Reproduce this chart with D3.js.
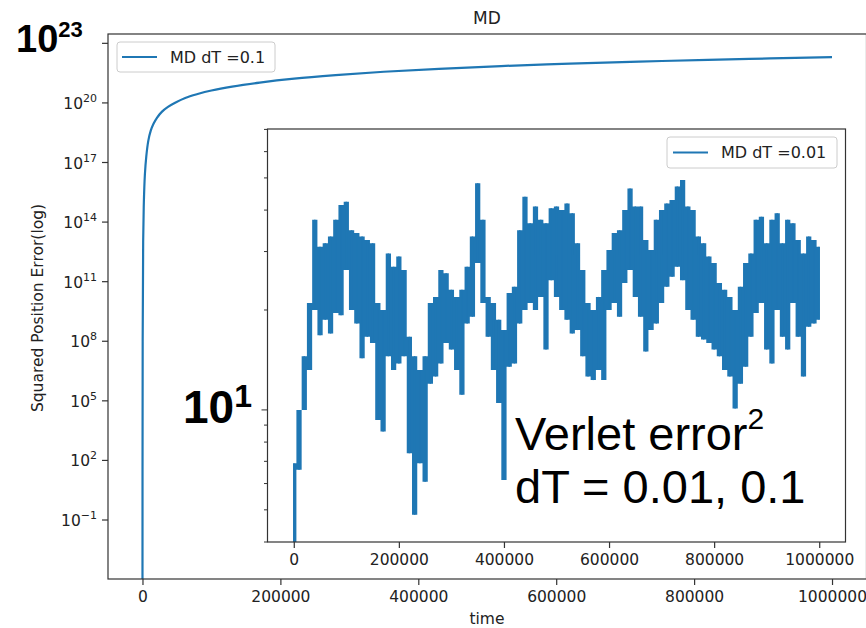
<html>
<head>
	<title>MD</title>
	<meta charset="utf-8">
	<script src="https://d3js.org/d3.v7.min.js"></script>
	<style>
		body { margin: 0; background: #fff; }
		text { font-family: "DejaVu Sans", sans-serif; fill: #222; }
		.note { font-family: "Liberation Sans", Arial, sans-serif; fill: #000; }
	</style>
</head>
<body>
	<svg id="chart" width="866" height="628"></svg>

	<script type="text/javascript">
		// main run, dT = 0.1
		var mainT = [0, 300, 1000, 2000, 3500, 5500, 8500, 12000, 16000, 21000, 28000, 37000,
			48000, 62000, 80000, 100000, 130000, 170000, 220000, 280000, 350000, 430000,
			520000, 620000, 720000, 820000, 910000, 1000000]
		var mainErr = [1e-6, 1e8, 1e13, 1e15, 2.5e16, 2.0e17, 1.26e18, 4.0e18, 8.9e18, 1.78e19, 3.55e19, 6.3e19,
			1.05e20, 1.78e20, 2.8e20, 4.2e20, 6.6e20, 1.05e21, 1.66e21, 2.5e21, 3.7e21, 5.2e21,
			7.2e21, 9.5e21, 1.2e22, 1.48e22, 1.74e22, 2.0e22]

		// inset run, dT = 0.01 : top and bottom of the noisy band, every 10000 steps
		var insetT = d3.range(0, 1000001, 10000)
		var insetHi = [6.91, 10.0, 14.5, 21.0, 37.4, 31.0, 31.8, 33.3, 37.4, 41.4,
			42.4, 34.8, 34.1, 33.3, 32.5, 31.8, 21.0, 20.0, 29.6, 27.0,
			29.0, 26.4, 16.6, 14.5, 13.2, 14.5, 21.0, 21.9, 26.4, 25.8,
			23.0, 21.9, 23.0, 27.0, 33.3, 48.2, 37.4, 21.9, 21.0, 18.7,
			17.4, 22.5, 23.5, 34.8, 43.9, 36.5, 41.0, 37.4, 36.5, 40.5,
			41.0, 40.0, 41.9, 39.1, 31.8, 26.4, 21.0, 20.0, 21.9, 26.4,
			30.3, 34.1, 34.8, 40.0, 46.5, 41.0, 41.0, 32.5, 30.3, 37.4,
			40.0, 41.9, 42.9, 47.1, 49.3, 41.0, 40.0, 33.3, 31.8, 29.0,
			27.7, 24.1, 23.0, 21.9, 20.0, 23.5, 27.7, 29.6, 37.4, 38.2,
			31.8, 37.4, 39.1, 31.8, 37.4, 36.5, 32.5, 29.6, 33.3, 32.5, 31.0]
		var insetLo = [3.0, 6.60, 10.0, 13.2, 20.0, 16.8, 18.7, 17.0, 19.6, 19.3,
			26.4, 20.0, 18.2, 14.3, 16.6, 15.9, 9.33, 8.61, 14.5, 13.2,
			13.8, 14.5, 7.40, 4.83, 6.91, 6.08, 12.0, 12.6, 13.8, 15.9,
			15.2, 13.2, 11.1, 18.2, 19.1, 27.7, 21.0, 16.6, 13.2, 10.5,
			6.15, 13.5, 13.8, 18.2, 20.0, 21.0, 20.0, 21.9, 15.2, 24.6,
			21.9, 20.0, 18.7, 17.0, 17.4, 14.5, 12.6, 12.3, 13.2, 12.3,
			20.0, 21.0, 19.1, 24.1, 26.4, 21.9, 19.1, 15.0, 17.4, 18.2,
			21.0, 23.5, 25.2, 27.0, 24.6, 20.0, 18.7, 16.6, 16.3, 15.9,
			15.2, 14.5, 13.2, 12.6, 10.1, 12.0, 13.5, 16.6, 19.6, 21.0,
			15.2, 13.8, 20.0, 16.6, 15.2, 21.0, 16.6, 12.6, 17.8, 18.2, 18.7]

		var xTicks = [0, 200000, 400000, 600000, 800000, 1000000]
		var mainYExp = [-1, 2, 5, 8, 11, 14, 17, 20, 23]
		var insetYTicks = [4, 5, 6, 7, 8, 9, 10, 20, 30, 40, 50, 60, 70]

		var blue = "#1f77b4"
		var svg = d3.select("#chart")
		svg.append("rect").attr("width", 866).attr("height", 628).attr("fill", "#fff")

		// ---------- main axes ----------
		var m = {left: 108, right: 866.5, top: 34, bottom: 579}
		var x = d3.scaleLinear().domain([-50000, 1050000]).range([m.left, m.right])
		var y = d3.scaleLog().domain([Math.pow(10, -3.97), Math.pow(10, 23.47)]).range([m.bottom, m.top])

		svg.append("clipPath").attr("id", "clipMain")
		  .append("rect").attr("x", m.left).attr("y", m.top)
			.attr("width", m.right - m.left).attr("height", m.bottom - m.top)

		svg.append("path")
			.datum(mainT.map((t, i) => [t, mainErr[i]]))
			.attr("clip-path", "url(#clipMain)")
			.attr("fill", "none")
			.attr("stroke", blue)
			.attr("stroke-width", 2.2)
			.attr("d", d3.line().x(d => x(d[0])).y(d => y(d[1])).curve(d3.curveCatmullRom.alpha(0.5)))

		svg.append("rect")
			.attr("x", m.left).attr("y", m.top)
			.attr("width", m.right - m.left).attr("height", m.bottom - m.top)
			.attr("fill", "none").attr("stroke", "#333").attr("stroke-width", 1.2)

		var gx = svg.append("g").attr("transform", "translate(0," + m.bottom + ")")
		  .call(d3.axisBottom(x).tickValues(xTicks).tickFormat(d3.format("d")).tickSize(6).tickPadding(6))
		gx.select(".domain").remove()
		gx.selectAll("line").attr("stroke", "#333").attr("stroke-width", 1.2)
		gx.selectAll("text").attr("font-size", 15.5).attr("font-family", "DejaVu Sans").attr("fill", "#222")

		// log ticks with superscript labels
		var gy = svg.append("g")
		gy.selectAll("line").data(mainYExp).enter().append("line")
			.attr("x1", m.left - 6).attr("x2", m.left)
			.attr("y1", d => y(Math.pow(10, d))).attr("y2", d => y(Math.pow(10, d)))
			.attr("stroke", "#333").attr("stroke-width", 1.2)
		var ylab = gy.selectAll("text").data(mainYExp.filter(d => d < 23)).enter().append("text")
			.attr("x", m.left - 11)
			.attr("y", d => y(Math.pow(10, d)) + 6)
			.attr("text-anchor", "end")
			.attr("font-size", 15.5)
		ylab.append("tspan").text("10")
		ylab.append("tspan").attr("dy", -7).attr("font-size", 11).text(d => d < 0 ? "\u2212" + (-d) : d)

		svg.append("text")
			.attr("transform", "translate(43,308) rotate(-90)")
			.attr("text-anchor", "middle")
			.attr("font-size", 15.5)
			.text("Squared Position Error(log)")

		svg.append("text").attr("x", 487).attr("y", 624)
			.attr("text-anchor", "middle").attr("font-size", 15.5).text("time")

		svg.append("text").attr("x", 487).attr("y", 24)
			.attr("text-anchor", "middle").attr("font-size", 17).text("MD")

		// main legend
		var lg = svg.append("g")
		lg.append("rect").attr("x", 117).attr("y", 42).attr("width", 158).attr("height", 30)
			.attr("rx", 3).attr("fill", "#fff").attr("fill-opacity", 0.8).attr("stroke", "#ccc")
		lg.append("line").attr("x1", 122).attr("x2", 157).attr("y1", 57).attr("y2", 57)
			.attr("stroke", blue).attr("stroke-width", 2.2)
		lg.append("text").attr("x", 170).attr("y", 62.5).attr("font-size", 16).text("MD dT =0.1")

		// ---------- inset axes ----------
		var n = {left: 267.5, right: 845.5, top: 129, bottom: 542}
		var xi = d3.scaleLinear().domain([-50000, 1050000]).range([n.left, n.right])
		var yi = d3.scaleLog().domain([4.0, 70.2]).range([n.bottom, n.top])

		svg.append("rect")
			.attr("x", n.left).attr("y", n.top)
			.attr("width", n.right - n.left).attr("height", n.bottom - n.top)
			.attr("fill", "#fff")

		svg.append("clipPath").attr("id", "clipInset")
		  .append("rect").attr("x", n.left).attr("y", n.top)
			.attr("width", n.right - n.left).attr("height", n.bottom - n.top)

		var band = insetT.map((t, i) => ({t: t, hi: insetHi[i], lo: insetLo[i]}))

		// the noisy trace: a stepped band between the two envelopes, each sample drawn as a vertical stroke
		var gi = svg.append("g").attr("clip-path", "url(#clipInset)")
		gi.append("path").datum(band)
			.attr("fill", blue)
			.attr("d", d3.area().x(d => xi(d.t)).y0(d => yi(d.lo)).y1(d => yi(d.hi)).curve(d3.curveStep))
		gi.selectAll("line.tick").data(band).enter().append("line")
			.attr("x1", d => xi(d.t)).attr("x2", d => xi(d.t))
			.attr("y1", d => yi(d.hi)).attr("y2", d => yi(d.lo))
			.attr("stroke", blue).attr("stroke-width", 1.5)

		svg.append("rect")
			.attr("x", n.left).attr("y", n.top)
			.attr("width", n.right - n.left).attr("height", n.bottom - n.top)
			.attr("fill", "none").attr("stroke", "#333").attr("stroke-width", 1.2)

		var gxi = svg.append("g").attr("transform", "translate(0," + n.bottom + ")")
		  .call(d3.axisBottom(xi).tickValues(xTicks).tickFormat(d3.format("d")).tickSize(6).tickPadding(6))
		gxi.select(".domain").remove()
		gxi.selectAll("line").attr("stroke", "#333").attr("stroke-width", 1.2)
		gxi.selectAll("text").attr("font-size", 15.5).attr("font-family", "DejaVu Sans").attr("fill", "#222")

		svg.append("g").selectAll("line").data(insetYTicks).enter().append("line")
			.attr("x1", d => n.left - (d == 10 ? 6 : 3.5)).attr("x2", n.left)
			.attr("y1", d => yi(d)).attr("y2", d => yi(d))
			.attr("stroke", "#333").attr("stroke-width", 1)

		// inset legend
		var li = svg.append("g")
		li.append("rect").attr("x", 667).attr("y", 137).attr("width", 170).attr("height", 31)
			.attr("rx", 3).attr("fill", "#fff").attr("fill-opacity", 0.8).attr("stroke", "#ccc")
		li.append("line").attr("x1", 673).attr("x2", 708).attr("y1", 152.5).attr("y2", 152.5)
			.attr("stroke", blue).attr("stroke-width", 2.2)
		li.append("text").attr("x", 721).attr("y", 158).attr("font-size", 16).text("MD dT =0.01")

		// ---------- pasted notes ----------
		var t23 = svg.append("text").attr("class", "note").attr("x", 16).attr("y", 52)
			.attr("font-size", 38).attr("font-weight", "bold")
		t23.append("tspan").text("10")
		t23.append("tspan").attr("dy", -15).attr("font-size", 22).text("23")

		var t1 = svg.append("text").attr("class", "note").attr("x", 183).attr("y", 423)
			.attr("font-size", 46).attr("font-weight", "bold")
		t1.append("tspan").text("10")
		t1.append("tspan").attr("dy", -16).attr("font-size", 32).text("1")

		var v1 = svg.append("text").attr("class", "note").attr("x", 515).attr("y", 450).attr("font-size", 47)
		v1.append("tspan").text("Verlet error")
		v1.append("tspan").attr("dy", -21).attr("font-size", 30).text("2")
		svg.append("text").attr("class", "note").attr("x", 515).attr("y", 503).attr("font-size", 47)
			.text("dT = 0.01, 0.1")
	</script>
</body>
</html>
